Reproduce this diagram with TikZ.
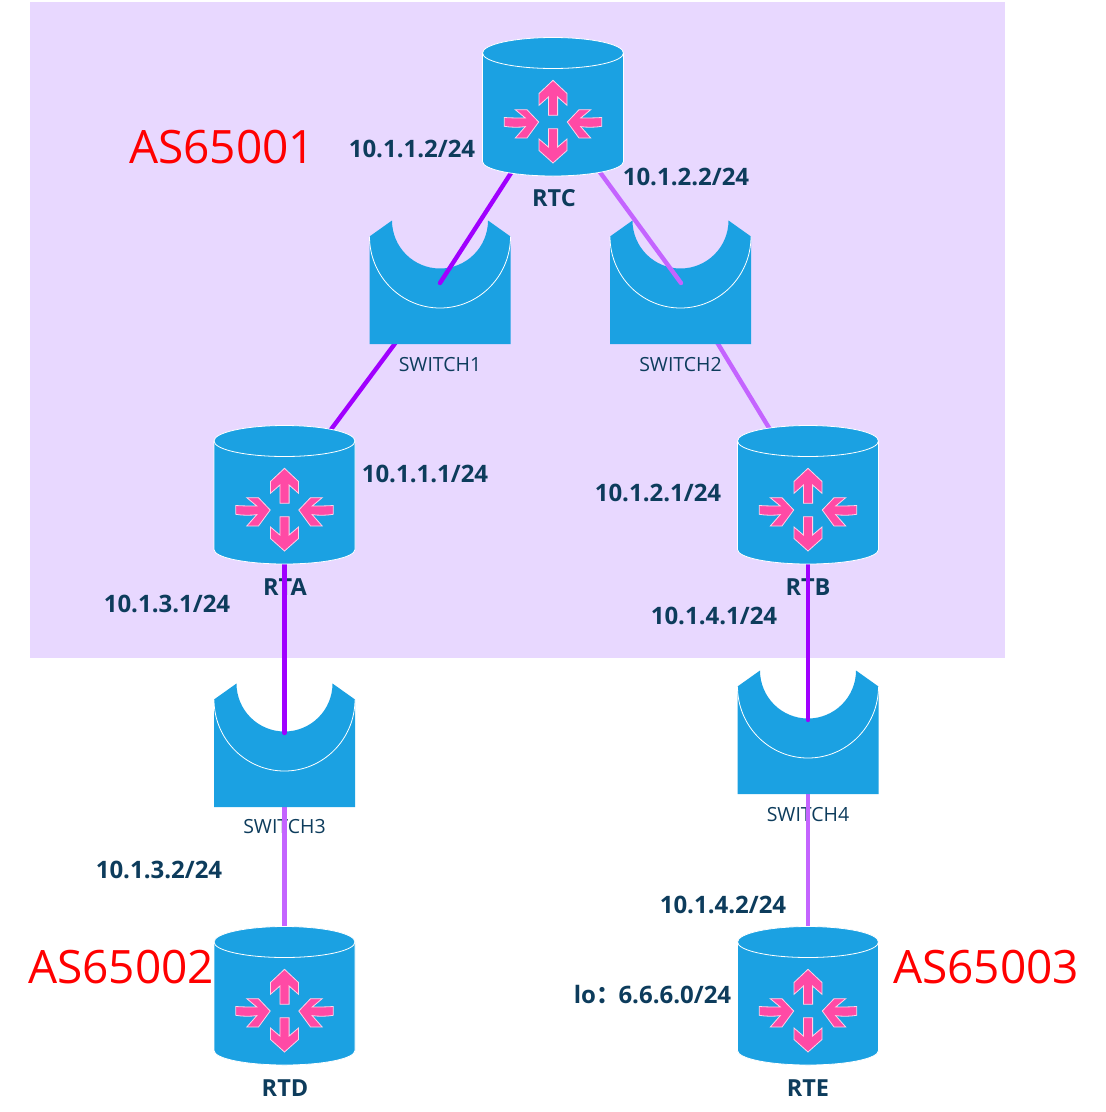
\documentclass[tikz,border=0pt]{standalone}
\usepackage{fontspec}
\setmainfont{Open Sans}
\newfontfamily\cjkfont{Noto Sans CJK SC}
\definecolor{devblue}{HTML}{1BA1E2}
\definecolor{arrowpink}{HTML}{FF4AA5}
\definecolor{zonebg}{HTML}{E8D8FF}
\definecolor{labelink}{HTML}{0D3C5C}
\definecolor{linkdark}{HTML}{A000FF}
\definecolor{linklight}{HTML}{C464FF}
\tikzset{
  devbody/.style={fill=devblue,draw=white,line width=0.8pt,line join=round},
  devline/.style={draw=white,line width=0.8pt},
  pinkarrow/.style={fill=arrowpink,draw=white!75!arrowpink,line width=0.8pt,line join=miter},
  addr/.style={font=\bfseries\fontsize{24}{28}\selectfont,text=labelink,inner sep=0pt},
  devname/.style={font=\bfseries\fontsize{23.5}{28}\selectfont,text=labelink,inner sep=0pt},
  swname/.style={font=\fontsize{19.5}{23}\selectfont,text=labelink,inner sep=0pt},
  asname/.style={font=\fontsize{46}{54}\selectfont,text=red,inner sep=0pt},
  darklink/.style={draw=linkdark,line width=4.4pt,line cap=round},
  lightlink/.style={draw=linklight,line width=4.4pt,line cap=round},
  router/.pic={
    % cylinder body and the rim of its top face
    \path[devbody] (-70.5,-69) -- (-70.5,39.5)
      arc[start angle=180,end angle=0,x radius=70.5,y radius=14.5]
      -- (70.5,-69)
      arc[start angle=0,end angle=-180,x radius=70.5,y radius=15.5] -- cycle;
    \path[devline] (-70.5,-69) arc[start angle=180,end angle=0,x radius=70.5,y radius=15.5];
    % four arrows around the centre
    \path[pinkarrow] (0,-41.7) -- (14,-28.5) -- (14,-16.7) -- (4.6,-25) -- (4.6,-6.7)
      -- (-4.6,-6.7) -- (-4.6,-25) -- (-14,-16.7) -- (-14,-28.5) -- cycle;
    \path[pinkarrow] (0,41) -- (14,28.5) -- (14,17) -- (4.6,25) -- (4.6,6.7)
      -- (-4.6,6.7) -- (-4.6,25) -- (-14,17) -- (-14,28.5) -- cycle;
    \path[pinkarrow] (-14.3,0) -- (-26,-12.3) -- (-37.7,-12.3) -- (-27.7,-4)
      .. controls (-34,-4) and (-42,-4) .. (-48.7,-4.5)
      -- (-48.7,4.3) .. controls (-42,5.5) and (-34,5.5) .. (-27.7,4.6)
      -- (-37.7,16) -- (-26,16) -- cycle;
    \path[pinkarrow] (14.3,0) -- (26,-12.3) -- (37.7,-12.3) -- (27.7,-4)
      .. controls (34,-4) and (42,-4) .. (48.7,-4.5)
      -- (48.7,4.3) .. controls (42,5.5) and (34,5.5) .. (27.7,4.6)
      -- (37.7,16) -- (26,16) -- cycle;
  },
  switchbox/.pic={
    % origin at the middle of the bottom edge
    \path[devbody,draw=none] (-70.5,0) -- (-70.5,-107.5) -- (-48,-123.5)
      arc[start angle=180,end angle=0,radius=48] -- (70.5,-107.5) -- (70.5,0) -- cycle;
    \path[devline] (-70.5,-107.5) arc[start angle=180,end angle=0,x radius=70.5,y radius=71.5];
  }
}
\begin{document}
\begin{tikzpicture}[x=1pt,y=-1pt]
\useasboundingbox (0,0) rectangle (1106,1112);
\fill[white] (0,0) rectangle (1106,1112);
\node[fill=zonebg,minimum width=975pt,minimum height=656pt,inner sep=0pt,anchor=north west] (zone) at (30,2) {};

% link end points
\coordinate (rtc) at (553,108);
\coordinate (rta) at (284.5,492);
\coordinate (rtb) at (808,492);
\coordinate (rtd) at (284.5,992);
\coordinate (rte) at (808,992);
\coordinate (sw1) at (440,283);
\coordinate (sw2) at (681,283);
\coordinate (sw3) at (284.5,733);
\coordinate (sw4) at (808,720);

% device names sit under the links
\node[devname] (nrtc) at (554,198) {RTC};
\node[devname] (nrta) at (285,587) {RTA};
\node[devname] (nrtb) at (808,587) {RTB};
\node[devname] (nrtd) at (285,1088) {RTD};
\node[devname] (nrte) at (808,1088) {RTE};
\node[swname] (nsw1) at (440,364.5) {SWITCH1};
\node[swname] (nsw2) at (680.5,364.5) {SWITCH2};
\node[swname] (nsw3) at (284.5,826.5) {SWITCH3};
\node[swname] (nsw4) at (808,814.5) {SWITCH4};

% links that pass behind the switches
\draw[darklink] (sw1) -- (rta);
\draw[lightlink] (sw2) -- (rtb);
\draw[lightlink] (sw3) -- (rtd);
\draw[lightlink] (sw4) -- (rte);

% switches
\pic at (440,344) {switchbox};
\pic at (680.5,344) {switchbox};
\pic at (284.5,807) {switchbox};
\pic at (808,794) {switchbox};

% links that end on top of the switches
\draw[darklink] (rtc) -- (sw1);
\draw[lightlink] (rtc) -- (sw2);
\draw[darklink] (rta) -- (sw3);
\draw[darklink] (rtb) -- (sw4);

% routers
\pic at (553,122) {router};
\pic at (284.5,510) {router};
\pic at (808,510) {router};
\pic at (284.5,1011) {router};
\pic at (808,1011) {router};

% interface addresses
\node[addr] (a1) at (412,149) {10.1.1.2/24};
\node[addr] (a2) at (686,177) {10.1.2.2/24};
\node[addr] (a3) at (425,474) {10.1.1.1/24};
\node[addr] (a4) at (658,493) {10.1.2.1/24};
\node[addr] (a5) at (167,604) {10.1.3.1/24};
\node[addr] (a6) at (714,616) {10.1.4.1/24};
\node[addr] (a7) at (159,870) {10.1.3.2/24};
\node[addr] (a8) at (723,905) {10.1.4.2/24};
\node[addr] (a9) at (652.5,995) {lo{\cjkfont\bfseries ：}\kern-1.5pt 6.6.6.0/24};

% autonomous system names
\node[asname] (as1) at (222,147) {AS65001};
\node[asname] (as2) at (121,967) {AS65002};
\node[asname] (as3) at (986,967) {AS65003};
\end{tikzpicture}
\end{document}
